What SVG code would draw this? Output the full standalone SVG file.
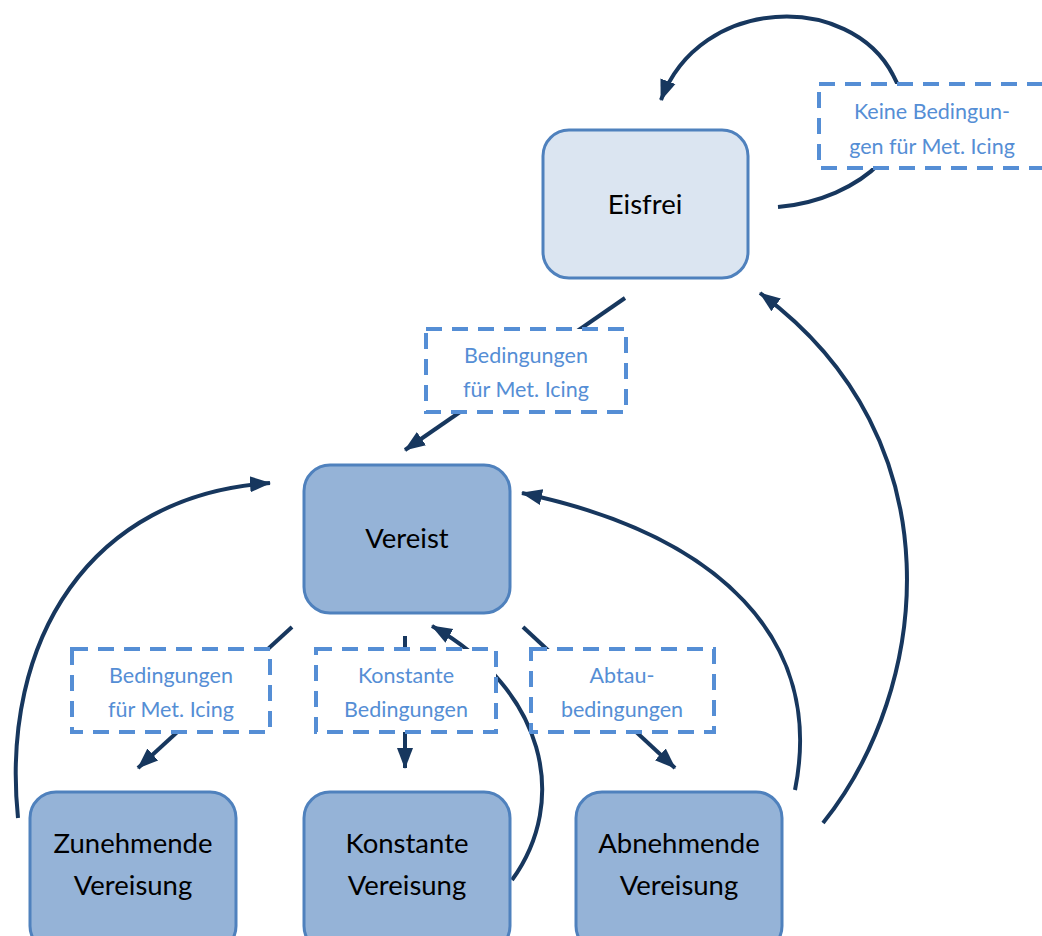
<svg xmlns="http://www.w3.org/2000/svg" width="1042" height="936" viewBox="0 0 1042 936">
<defs>
<style>
.node rect{stroke:#4f81bd;stroke-width:3}
.n1{fill:#dbe5f1}
.n2{fill:#95b3d7}
.nt{font-family:Lato,"Open Sans",sans-serif;font-size:27.5px;fill:#000;text-anchor:middle}
.lab rect{fill:#fff;stroke:#558ed5;stroke-width:4;stroke-dasharray:16 10}
.lt{font-family:Lato,"Open Sans",sans-serif;font-size:21.5px;fill:#558ed5;text-anchor:middle}
.c{fill:none;stroke:#17375e;stroke-width:4}
</style>
<marker id="ah" markerUnits="userSpaceOnUse" markerWidth="22" markerHeight="22" viewBox="0 0 22 22" refX="20" refY="11" orient="auto">
<path d="M0,3 L21,11 L0,19 Z" fill="#17375e"/>
</marker>
</defs>
<rect width="1042" height="936" fill="#fff"/>
<g id="connectors">
<path class="c" d="M778,207 C860,200 930,140 893,75 C850,-8 700,-5 661,100" marker-end="url(#ah)"/>
<path class="c" d="M625,298 L405,450" marker-end="url(#ah)"/>
<path class="c" d="M292,627 L138,768" marker-end="url(#ah)"/>
<path class="c" d="M405,636 L405,768" marker-end="url(#ah)"/>
<path class="c" d="M523,627 L675,768" marker-end="url(#ah)"/>
<path class="c" d="M18,818 C0,640 90,495 270,483" marker-end="url(#ah)"/>
<path class="c" d="M512,880 C570,800 545,690 432,626" marker-end="url(#ah)"/>
<path class="c" d="M795,790 C825,640 720,535 522,493" marker-end="url(#ah)"/>
<path class="c" d="M823,823 C930,690 960,440 760,293" marker-end="url(#ah)"/>
</g>
<g id="label-keine" class="lab">
<rect x="819" y="84" width="240" height="84"/>
<text class="lt" x="932" y="119">Keine Bedingun-</text>
<text class="lt" x="932" y="154">gen für Met. Icing</text>
</g>
<g id="label-icing-top" class="lab">
<rect x="426" y="329" width="200" height="83"/>
<text class="lt" x="526" y="363">Bedingungen</text>
<text class="lt" x="526" y="397">für Met. Icing</text>
</g>
<g id="label-icing-bottom" class="lab">
<rect x="72" y="649" width="198" height="83"/>
<text class="lt" x="171" y="683">Bedingungen</text>
<text class="lt" x="171" y="717">für Met. Icing</text>
</g>
<g id="label-konstant" class="lab">
<rect x="316" y="649" width="180" height="83"/>
<text class="lt" x="406" y="683">Konstante</text>
<text class="lt" x="406" y="717">Bedingungen</text>
</g>
<g id="label-abtau" class="lab">
<rect x="531" y="649" width="183" height="83"/>
<text class="lt" x="622" y="683">Abtau-</text>
<text class="lt" x="622" y="717">bedingungen</text>
</g>
<g id="node-eisfrei" class="node">
<rect class="n1" x="543" y="130" width="205" height="148" rx="26"/>
<text class="nt" x="645" y="214">Eisfrei</text>
</g>
<g id="node-vereist" class="node">
<rect class="n2" x="304" y="465" width="206" height="148" rx="26"/>
<text class="nt" x="407" y="548">Vereist</text>
</g>
<g id="node-zunehmend" class="node">
<rect class="n2" x="30" y="792" width="206" height="160" rx="26"/>
<text class="nt" x="133" y="853">Zunehmende</text>
<text class="nt" x="133" y="895">Vereisung</text>
</g>
<g id="node-konstant" class="node">
<rect class="n2" x="304" y="792" width="206" height="160" rx="26"/>
<text class="nt" x="407" y="853">Konstante</text>
<text class="nt" x="407" y="895">Vereisung</text>
</g>
<g id="node-abnehmend" class="node">
<rect class="n2" x="576" y="792" width="206" height="160" rx="26"/>
<text class="nt" x="679" y="853">Abnehmende</text>
<text class="nt" x="679" y="895">Vereisung</text>
</g>
</svg>
